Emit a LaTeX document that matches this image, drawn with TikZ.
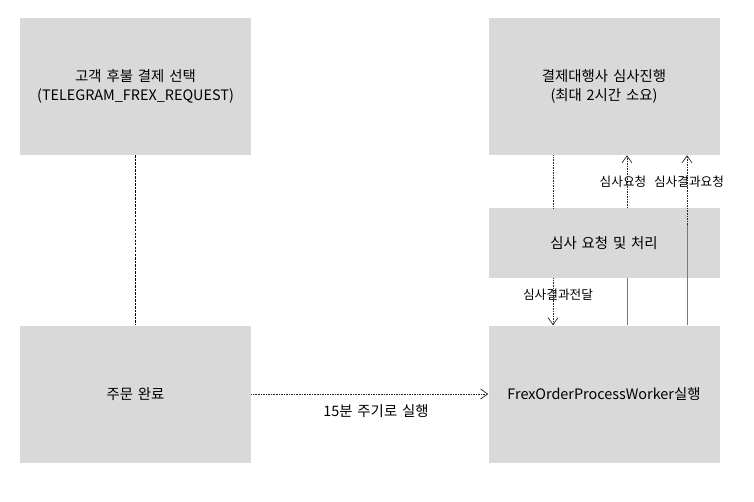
\documentclass[tikz,border=0pt]{standalone}
\usepackage{fontspec}
\setmainfont[WordSpace=1.5]{Noto Sans CJK KR}
\usetikzlibrary{positioning,calc,arrows.meta}
\definecolor{BoxGray}{RGB}{217,217,217}
\definecolor{LineGray}{RGB}{120,120,120}
\tikzset{
  blk/.style={fill=BoxGray,minimum width=6.93cm,minimum height=4.11cm,inner sep=0pt,
    align=center,font=\fontsize{12.3}{16.5}\selectfont},
  slim/.style={blk,minimum height=2.1cm},
  dotl/.style={draw=black!85,line width=0.5pt,dash pattern=on 0.6pt off 0.8pt},
  dashl/.style={draw=black,line width=0.8pt,dash pattern=on 2pt off 1pt},
  soll/.style={draw=LineGray,line width=0.8pt},
  tip/.style={-{Straight Barb[length=6pt,width=8.5pt,line width=0.6pt]}},
  lab/.style={font=\fontsize{10.8}{12}\selectfont,inner sep=1pt},
}

\begin{document}
\begin{tikzpicture}[x=0.03cm,y=-0.03cm]
\useasboundingbox (0,0) rectangle (754,501);
% boxes
\node[blk] (select) at (135.5,86.5) {고객 후불 결제 선택\\(TELEGRAM\_FREX\_REQUEST)};
\node[blk] (done) at (135.5,394) {주문 완료};
\node[blk] (judge) at (604,86.5) {결제대행사 심사진행\\(최대 2시간 소요)};
\node[slim] (proc) at (604,243) {심사 요청 및 처리};
\node[blk] (work) at (604,394) {FrexOrderProcessWorker실행};
% line positions
\coordinate (c1) at (553,0);
\coordinate (c2) at (627,0);
\coordinate (c3) at (687,0);
\coordinate (m3) at (687,225);
% connectors
\draw[dashl] (select) -- (done);
\draw[dotl,tip] (done.east) -- (work.west);
\node[lab,font=\fontsize{12.3}{14}\selectfont] (every) at (376,411) {15분 주기로 실행};
\draw[dotl] (judge.south -| c1) -- (proc.north -| c1);
\draw[dotl,tip] (proc.south -| c1) -- (work.north -| c1);
\draw[soll] (work.north -| c2) -- (proc.south -| c2);
\draw[dotl,tip] (proc.north -| c2) -- (judge.south -| c2);
\draw[soll] (work.north -| c3) -- (m3);
\draw[dotl,tip] (m3) -- (judge.south -| c3);
\node[lab] (ask) at (623,182) {심사요청};
\node[lab] (askres) at (689,182) {심사결과요청};
\node[lab] (give) at (558,295) {심사결과전달};
\end{tikzpicture}
\end{document}
